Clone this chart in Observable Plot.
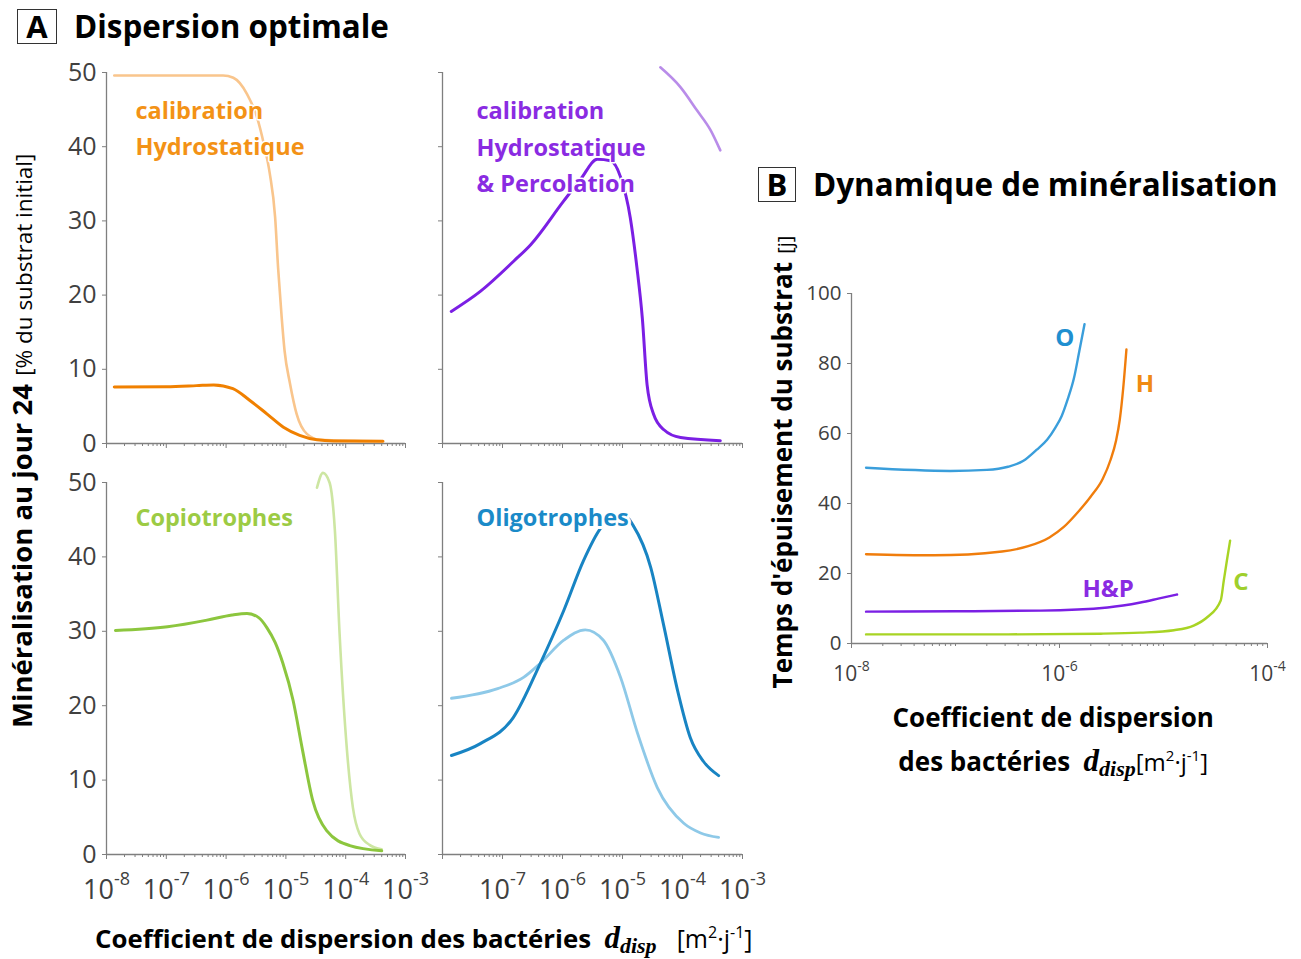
<!DOCTYPE html>
<html>
<head>
<meta charset="utf-8">
<script src="https://cdn.jsdelivr.net/npm/d3@7"></script>
<script src="https://cdn.jsdelivr.net/npm/@observablehq/plot@0.6"></script>
<style>
  html, body { margin: 0; padding: 0; background: #fff; }
  #fig { position: relative; width: 1301px; height: 959px; overflow: hidden; background: #fff;
         font-family: "Open Sans", "Noto Sans", sans-serif; color: #000; }
  .abs { position: absolute; white-space: nowrap; line-height: 1; }
  .box { position: absolute; border: 1.5px solid #333; box-sizing: border-box; font-weight: 700;
         display: flex; align-items: center; justify-content: center; line-height: 1; }
  .dd { font-family: "Liberation Serif", "DejaVu Serif", serif; font-style: italic; font-weight: 700; }
  .rot { position: absolute; white-space: nowrap; line-height: 1; text-align: center; transform: rotate(-90deg); transform-origin: 50% 50%; }
</style>
</head>
<body>
<div id="fig"></div>
<script>
// ---------- DATA (x = d_disp [m2/j], y = value) ----------
// Panel A, top-left: calibration Hydrostatique (mineralisation day 24, %)
const hydroLight = [[1.35e-8,49.6],[1e-7,49.6],[3.2e-7,49.6],[8.9e-7,49.6],[1.32e-6,49.3],[2.24e-6,47.1],[3.31e-6,43.9],[4.27e-6,40.4],[5.37e-6,36.4],[6.6e-6,30.5],[7.4e-6,23.7],[8.5e-6,17],[9.5e-6,12.5],[1.17e-5,8.1],[1.51e-5,4],[2.24e-5,1.3],[3.7e-5,0.5],[4.2e-4,0.3]];
const hydroDark  = [[1.35e-8,7.6],[1e-7,7.65],[3.2e-7,7.8],[6.2e-7,7.9],[1.3e-6,7.4],[2.5e-6,5.8],[4.8e-6,4.0],[9.1e-6,2.2],[1.7e-5,1.1],[3.3e-5,0.5],[6.3e-5,0.35],[4.2e-4,0.3]];
// Panel A, top-right: calibration Hydrostatique & Percolation
const percoDark  = [[1.4e-8,17.8],[4.27e-8,20.5],[1.55e-7,24.6],[2.95e-7,26.8],[1.05e-6,32.7],[2.0e-6,35.6],[3.8e-6,38.3],[6.3e-6,38.1],[9.3e-6,35.9],[1.35e-5,30.4],[1.74e-5,23.7],[2.14e-5,16.9],[2.57e-5,7.9],[3.31e-5,3.9],[4.9e-5,1.85],[9.3e-5,0.8],[4.27e-4,0.37]];
const percoLight = [[4.27e-5,50.7],[9.3e-5,48],[1.74e-4,44.9],[2.95e-4,42.2],[4.27e-4,39.5]];
// Panel A, bottom-left: Copiotrophes
const copioDark  = [[1.41e-8,30.1],[1.05e-7,30.6],[4.8e-7,31.5],[1.26e-6,32.2],[2.24e-6,32.4],[3.55e-6,31.8],[4.8e-6,30.5],[6.6e-6,28.5],[8.9e-6,25.7],[1.32e-5,20.7],[1.9e-5,14],[2.8e-5,7.3],[4.8e-5,3.2],[1.17e-4,1.2],[4e-4,0.5]];
const copioLight = [[3.31e-5,49.3],[4.17e-5,51.3],[5.37e-5,50],[6.6e-5,43.5],[7.9e-5,29.7],[1.05e-4,14],[1.32e-4,6.3],[1.7e-4,2.8],[2.5e-4,1.3],[4e-4,0.7]];
// Panel A, bottom-right: Oligotrophes
const oligoDark  = [[1.41e-8,13.3],[4.27e-8,14.9],[1.51e-7,18.4],[4.27e-7,25.7],[1.05e-6,32.8],[2.24e-6,39.5],[4.27e-6,43.8],[7.1e-6,45.5],[1.12e-5,45.5],[1.51e-5,44.2],[2.95e-5,38.6],[4.8e-5,31],[8.3e-5,22],[1.35e-4,15.7],[2.24e-4,12.5],[4e-4,10.6]];
const oligoLight = [[1.41e-8,21],[8.3e-8,22.3],[2.24e-7,23.8],[4.27e-7,25.7],[1.05e-6,28.8],[2.4e-6,30.2],[4.8e-6,28.8],[9.3e-6,23.8],[1.78e-5,16.3],[3.8e-5,9],[1.05e-4,4.2],[2e-4,2.9],[4e-4,2.3]];
// Panel B: substrate depletion time [j]
const timeO  = [[1.38e-8,50.2],[8.9e-8,49.3],[2.0e-7,49.6],[3.2e-7,50.5],[4.5e-7,52.2],[6e-7,55.3],[7.6e-7,58.2],[9.1e-7,61.6],[1.05e-6,65],[1.2e-6,69.8],[1.38e-6,75.9],[1.55e-6,83.5],[1.74e-6,91.2]];
const timeH  = [[1.38e-8,25.5],[6.2e-8,25.2],[2.8e-7,26.3],[5e-7,27.8],[8e-7,30.3],[1.1e-6,33.3],[1.5e-6,37.5],[2.0e-6,42],[2.6e-6,47],[3.1e-6,52.5],[3.5e-6,58],[3.8e-6,64],[4.1e-6,73],[4.4e-6,84]];
const timeHP = [[1.38e-8,9.1],[1e-7,9.2],[6.6e-7,9.4],[2.9e-6,10.3],[6e-6,11.7],[8.9e-6,12.8],[1.35e-5,14]];
const timeC  = [[1.38e-8,2.6],[3.2e-7,2.6],[2.5e-6,2.8],[6e-6,3.1],[1.26e-5,3.8],[1.95e-5,5.1],[2.63e-5,7.5],[3.55e-5,12.3],[3.8e-5,18],[4.07e-5,23.7],[4.37e-5,29.4]];

// tick values
const aDecades = [-8,-7,-6,-5,-4,-3];
const aLabelsLeft = [-8,-7,-6,-5,-4,-3];
const aLabelsRight = [-7,-6,-5,-4,-3];
const aYTicks = [0,10,20,30,40,50];
const bDecades = [-8,-7,-6,-5,-4];
const bLabels = [-8,-6,-4];
const bYTicks = [0,20,40,60,80,100];

// labels
const labHydro = {x: 3.05e-8, y: 42.85, text: "calibration\nHydrostatique"};
const labPerco = {x: 3.69e-8, y: 40.35, text: "calibration\nHydrostatique\n& Percolation"};
const labCopio = {x: 3.05e-8, y: 45.75, text: "Copiotrophes"};
const labOligo = {x: 3.69e-8, y: 45.75, text: "Oligotrophes"};
const labB = [
  {x: 9.1e-7, y: 87.1, text: "O", c: "#1f8fd0"},
  {x: 5.4e-6, y: 74.1, text: "H", c: "#f08a12"},
  {x: 1.66e-6, y: 15.4, text: "H&P", c: "#8a2be2"},
  {x: 4.68e-5, y: 17.5, text: "C", c: "#9fcf2c"}
];

// ---------- STYLE ----------
const FONT = "'Open Sans', 'Noto Sans', sans-serif";
const AXIS = "#7f7f7f";
const TXT = "#404040";
const C = {
  orange: "#f08000", orangeL: "#f9c58c", orangeT: "#f39216",
  purple: "#7b1fe4", purpleL: "#b98ce9", purpleT: "#8a2be2",
  green: "#8cc63e", greenL: "#cde6a2", greenT: "#9ccb44",
  blue: "#1884c3", blueL: "#8ec9e8", blueT: "#1a8ac8",
  bO: "#3a9edb", bH: "#f07d0c", bHP: "#7b1fe4", bC: "#a8d424"
};

const fig = document.getElementById("fig");
const pow = e => Math.pow(10, e);
function minorTicks(decs) {
  const out = [];
  for (const e of decs.slice(0, -1)) for (let m = 2; m <= 9; m++) out.push(m * pow(e));
  return out;
}
const fmtPow = d => "10^" + Math.round(Math.log10(d));
const xy = {x: d => d[0], y: d => d[1]};

function supify(svg, supSize, dy) {
  svg.querySelectorAll('g[aria-label="x-axis tick label"] text').forEach(t => {
    const m = t.textContent.match(/^10\^(-?\d+)$/);
    if (!m) return;
    t.textContent = "10";
    const ts = document.createElementNS("http://www.w3.org/2000/svg", "tspan");
    ts.setAttribute("dy", dy);
    ts.setAttribute("font-size", supSize);
    ts.textContent = m[1];
    t.appendChild(ts);
  });
}

function place(node, left, top) {
  node.style.position = "absolute";
  node.style.left = left + "px";
  node.style.top = top + "px";
  fig.appendChild(node);
}

function panelA({left, top, width, height, frame, labels, series, text, textColor, halo}) {
  const [x0, x1, y0, y1] = frame;
  const marks = [
    Plot.ruleY([0], {stroke: AXIS, strokeWidth: 1.3}),
    Plot.ruleX([1e-8], {stroke: AXIS, strokeWidth: 1.3}),
    Plot.axisY({ticks: aYTicks, tickSize: 4, tickFormat: () => "", stroke: AXIS, label: null}),
    Plot.axisX({ticks: minorTicks(aDecades), tickSize: 3, tickFormat: () => "", stroke: AXIS, label: null}),
    Plot.axisX({ticks: aDecades.map(pow), tickSize: 5, tickFormat: () => "", stroke: AXIS, label: null})
  ];
  if (labels) {
    if (labels.y) marks.push(Plot.axisY({ticks: aYTicks, tickSize: 0, tickPadding: 10, fill: TXT, label: null, fontSize: 25}));
    if (labels.x) marks.push(Plot.axisX({ticks: labels.x.map(pow), tickSize: 0, tickPadding: 25, tickFormat: fmtPow, fill: TXT, label: null, fontSize: 27}));
  }
  for (const s of series) marks.push(Plot.line(s.data, {...xy, stroke: s.color, strokeWidth: s.w, curve: "monotone-x"}));
  marks.push(Plot.text([text], {x: "x", y: "y", text: "text", textAnchor: "start", lineAnchor: "middle", lineHeight: 1.55,
    fontSize: 23.5, fontWeight: 700, fill: textColor, stroke: "white", strokeWidth: halo, fontFamily: FONT}));
  const svg = Plot.plot({
    width, height,
    marginLeft: x0 - left, marginRight: left + width - x1,
    marginTop: y0 - top, marginBottom: top + height - y1,
    x: {type: "log", domain: [1e-8, 1e-3]},
    y: {domain: [0, 50]},
    style: {fontFamily: FONT, fontSize: "25px", color: TXT, background: "transparent", overflow: "visible"},
    marks
  });
  supify(svg, "18px", "-14");
  place(svg, left, top);
}

// ---------- PANEL A ----------
panelA({left: 40, top: 50, width: 380, height: 405, frame: [106, 405, 72, 443],
  labels: {y: true}, text: labHydro, textColor: C.orangeT, halo: 3,
  series: [{data: hydroLight, color: C.orangeL, w: 2.6}, {data: hydroDark, color: C.orange, w: 3}]});
panelA({left: 420, top: 50, width: 340, height: 405, frame: [442, 742, 72, 443],
  labels: null, text: labPerco, textColor: C.purpleT, halo: 3,
  series: [{data: percoLight, color: C.purpleL, w: 2.6}, {data: percoDark, color: C.purple, w: 3}]});
panelA({left: 40, top: 460, width: 380, height: 450, frame: [106, 405, 482, 854],
  labels: {y: true, x: aLabelsLeft}, text: labCopio, textColor: C.greenT, halo: 3,
  series: [{data: copioLight, color: C.greenL, w: 2.6}, {data: copioDark, color: C.green, w: 3}]});
panelA({left: 420, top: 460, width: 340, height: 450, frame: [442, 742, 482, 854],
  labels: {x: aLabelsRight}, text: labOligo, textColor: C.blueT, halo: 6,
  series: [{data: oligoLight, color: C.blueL, w: 2.8}, {data: oligoDark, color: C.blue, w: 3}]});

// ---------- PANEL B ----------
(function () {
  const left = 790, top = 280, width = 500, height = 420;
  const [x0, x1, y0, y1] = [851, 1267, 293, 643];
  const bMajorLong = bLabels.map(pow);
  const bMinor = minorTicks(bDecades).concat([-7, -5].map(pow));
  const svg = Plot.plot({
    width, height,
    marginLeft: x0 - left, marginRight: left + width - x1,
    marginTop: y0 - top, marginBottom: top + height - y1,
    x: {type: "log", domain: [1e-8, 1e-4]},
    y: {domain: [0, 100]},
    style: {fontFamily: FONT, fontSize: "20px", color: TXT, background: "transparent", overflow: "visible"},
    marks: [
      Plot.ruleY([0], {stroke: AXIS, strokeWidth: 1.3}),
      Plot.ruleX([1e-8], {stroke: AXIS, strokeWidth: 1.3}),
      Plot.axisY({ticks: bYTicks, tickSize: 4, tickFormat: () => "", stroke: AXIS, label: null}),
      Plot.axisY({ticks: bYTicks, tickSize: 0, tickPadding: 10, fill: TXT, label: null, fontSize: 20.5}),
      Plot.axisX({ticks: bMinor, tickSize: 3, tickFormat: () => "", stroke: AXIS, label: null}),
      Plot.axisX({ticks: bMajorLong, tickSize: 5, tickFormat: () => "", stroke: AXIS, label: null}),
      Plot.axisX({ticks: bMajorLong, tickSize: 0, tickPadding: 23, tickFormat: fmtPow, fill: TXT, label: null, fontSize: 21}),
      Plot.line(timeC, {...xy, stroke: C.bC, strokeWidth: 2.4, curve: "monotone-x"}),
      Plot.line(timeHP, {...xy, stroke: C.bHP, strokeWidth: 2.4, curve: "monotone-x"}),
      Plot.line(timeH, {...xy, stroke: C.bH, strokeWidth: 2.4, curve: "monotone-x"}),
      Plot.line(timeO, {...xy, stroke: C.bO, strokeWidth: 2.4, curve: "monotone-x"}),
      Plot.text(labB, {x: "x", y: "y", text: "text", fill: "c", textAnchor: "start", fontSize: 24, fontWeight: 700, fontFamily: FONT})
    ]
  });
  supify(svg, "14px", "-10");
  place(svg, left, top);
})();

// ---------- TEXT: titles and axis titles ----------
function html(str, css) {
  const d = document.createElement("div");
  d.className = "abs";
  d.innerHTML = str;
  Object.assign(d.style, css);
  fig.appendChild(d);
  return d;
}
function box(letter, left, top, w, h, fs) {
  const d = document.createElement("div");
  d.className = "box";
  d.textContent = letter;
  Object.assign(d.style, {left: left + "px", top: top + "px", width: w + "px", height: h + "px", fontSize: fs + "px"});
  fig.appendChild(d);
}
box("A", 17, 9, 40, 35, 31);
html("Dispersion optimale", {left: "74px", top: "10px", fontSize: "31.4px", fontWeight: 700});
box("B", 758, 167, 38, 35, 31);
html("Dynamique de minéralisation", {left: "813px", top: "168px", fontSize: "31.4px", fontWeight: 700});

// A y-axis title (rotated)
(function () {
  const d = document.createElement("div");
  d.className = "rot";
  d.innerHTML = '<span style="font-weight:700;font-size:27.5px">Minéralisation au jour 24</span>&nbsp;&nbsp;<span style="font-size:22.5px">[% du substrat initial]</span>';
  fig.appendChild(d);
  const w = d.offsetWidth, h = d.offsetHeight;
  d.style.left = (22 - w / 2) + "px";
  d.style.top = (441 - h / 2) + "px";
})();
// A x-axis title
html('<b>Coefficient de dispersion des bactéries</b>&nbsp;&nbsp;<span class="dd" style="font-size:31px">d<sub style="font-size:22px;vertical-align:-5px">disp</sub></span>&nbsp;&nbsp;&nbsp;<span style="font-size:25px">[m<sup style="font-size:16px;vertical-align:10px">2</sup>·j<sup style="font-size:16px;vertical-align:10px">-1</sup>]</span>',
  {left: "95px", top: "922px", fontSize: "25.8px"});

// B y-axis title (rotated)
(function () {
  const d = document.createElement("div");
  d.className = "rot";
  d.innerHTML = '<span style="font-weight:700;font-size:26px">Temps d\'épuisement du substrat</span>&nbsp;&nbsp;<span style="font-size:20px">[j]</span>';
  fig.appendChild(d);
  const w = d.offsetWidth, h = d.offsetHeight;
  d.style.left = (782 - w / 2) + "px";
  d.style.top = (462 - h / 2) + "px";
})();
// B x-axis title (two lines, centered)
(function () {
  const d = document.createElement("div");
  d.className = "abs";
  d.style.textAlign = "center";
  d.style.lineHeight = "38px";
  d.style.fontSize = "26px";
  d.innerHTML = '<b>Coefficient de dispersion</b><br><b>des bactéries</b>&nbsp;&nbsp;<span class="dd" style="font-size:31px">d<sub style="font-size:22px;vertical-align:-5px">disp</sub></span><span style="font-size:24px">[m<sup style="font-size:15px;vertical-align:10px">2</sup>·j<sup style="font-size:15px;vertical-align:10px">-1</sup>]</span>';
  fig.appendChild(d);
  const w = d.offsetWidth;
  d.style.left = (1053 - w / 2) + "px";
  d.style.top = "698px";
})();
</script>
</body>
</html>
